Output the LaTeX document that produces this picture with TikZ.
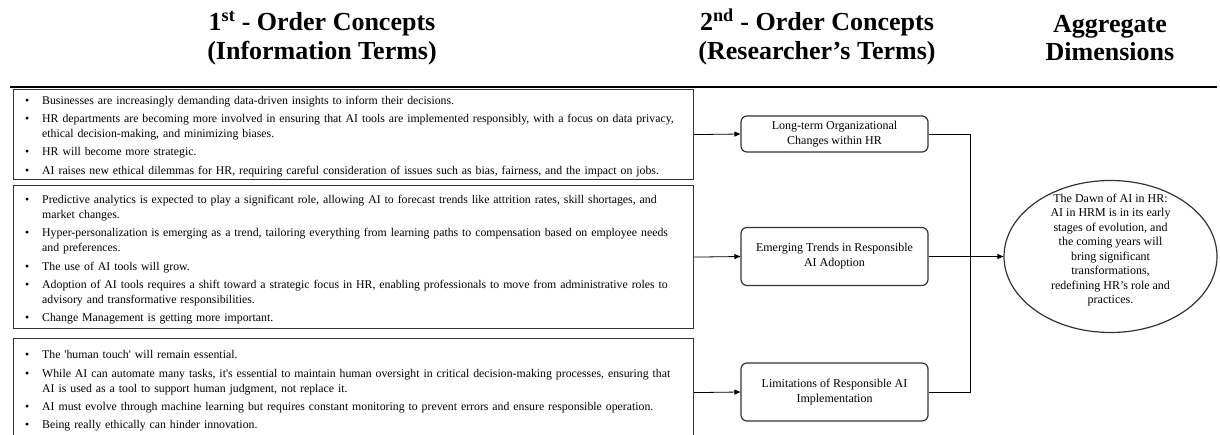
\documentclass[tikz,border=0pt]{standalone}
\usepackage{fontspec}
\setmainfont{Liberation Serif}
\usetikzlibrary{arrows.meta,shapes.geometric}
\newcommand{\bfirst}[1]{\hangindent=17pt\hangafter=1\noindent\makebox[17pt][l]{\strut\textbullet}#1}
\newcommand{\bitem}[1]{\par\vspace{3.3pt}\hangindent=17pt\hangafter=1\noindent\makebox[17pt][l]{\strut\textbullet}#1}
\begin{document}
\begin{tikzpicture}[x=1pt,y=-1pt,
  hdr/.style={font=\fontsize{26}{29}\selectfont\bfseries, inner sep=0pt, anchor=base},
  lbox/.style={draw=black!80, line width=1.2pt, rectangle, inner sep=0pt, anchor=north west, minimum width=680pt},
  ltext/.style={inner sep=0pt, anchor=north west, text width=668pt, align=left, font=\fontsize{11.8}{15}\selectfont},
  cbox/.style={draw=black!80, line width=1.2pt, rounded corners=6pt, minimum width=187pt, minimum height=36pt, align=center, inner sep=0pt, font=\fontsize{12}{15}\selectfont},
  conn/.style={line width=0.8pt, black},
  arr/.style={conn, -{Triangle[length=6pt,width=5pt]}}
]
\useasboundingbox (0,0) rectangle (1220,435);
\clip (0,0) rectangle (1220,435);
% headers
\node[hdr] (h1a) at (322,31) {1\textsuperscript{st} - Order Concepts};
\node[hdr] (h1b) at (322,60) {(Information Terms)};
\node[hdr] (h2a) at (817,31) {2\textsuperscript{nd} - Order Concepts};
\node[hdr] (h2b) at (817,60) {(Researcher’s Terms)};
\node[hdr] (h3a) at (1110,33) {Aggregate};
\node[hdr] (h3b) at (1110,61) {Dimensions};
\coordinate (rl) at (10,87);
\coordinate (rr) at (1217,87);
\draw[line width=1.4pt] (rl) -- (rr);
% first-order boxes
\node[lbox, minimum height=90pt] (b1) at (13,89) {};
\node[ltext] (t1) at (25,93.5) {%
\bfirst{Businesses are increasingly demanding data-driven insights to inform their decisions.}
\bitem{HR departments are becoming more involved in ensuring that AI tools are implemented responsibly, with a focus on data privacy,\newline ethical decision-making, and minimizing biases.}
\bitem{HR will become more strategic.}
\bitem{AI raises new ethical dilemmas for HR, requiring careful consideration of issues such as bias, fairness, and the impact on jobs.}};
\node[lbox, minimum height=143pt] (b2) at (13,185) {};
\node[ltext] (t2) at (25,193) {%
\bfirst{Predictive analytics is expected to play a significant role, allowing AI to forecast trends like attrition rates, skill shortages, and\newline market changes.}
\bitem{Hyper-personalization is emerging as a trend, tailoring everything from learning paths to compensation based on employee needs\newline and preferences.}
\bitem{The use of AI tools will grow.}
\bitem{Adoption of AI tools requires a shift toward a strategic focus in HR, enabling professionals to move from administrative roles to\newline advisory and transformative responsibilities.}
\bitem{Change Management is getting more important.}};
\node[lbox, minimum height=108pt] (b3) at (13,338) {};
\node[ltext] (t3) at (25,348) {%
\bfirst{The \textquotesingle human touch\textquotesingle{} will remain essential.}
\bitem{While AI can automate many tasks, it\textquotesingle s essential to maintain human oversight in critical decision-making processes, ensuring that\newline AI is used as a tool to support human judgment, not replace it.}
\bitem{AI must evolve through machine learning but requires constant monitoring to prevent errors and ensure responsible operation.}
\bitem{Being really ethically can hinder innovation.}};
% second-order boxes
\node[cbox] (c1) at (834.5,134) {Long-term Organizational\\Changes within HR};
\node[cbox, minimum height=58pt] (c2) at (834.5,256.5) {Emerging Trends in Responsible\\AI Adoption};
\node[cbox, minimum height=58pt] (c3) at (834.5,392) {Limitations of Responsible AI\\Implementation};
% aggregate
\node[draw=black!80, line width=1.2pt, ellipse, minimum width=213pt, minimum height=152pt, inner sep=0pt] (agg) at (1110.5,256.5) {};
\node[font=\fontsize{12}{14.5}\selectfont, align=center, inner sep=0pt] (aggt) at (1110.5,250) {The Dawn of AI in HR:\\AI in HRM is in its early\\stages of evolution, and\\the coming years will\\bring significant\\transformations,\\redefining HR’s role and\\practices.};
% connectors
\draw[arr] (b1.east) -- (c1.west);
\draw[arr] (b2.east) -- (c2.west);
\draw[arr] (b3.east) -- (c3.west);
\coordinate (j1) at (970,134);
\coordinate (j3) at (970,392);
\draw[conn] (c1.east) -- (j1) -- (j3) -- (c3.east);
\draw[arr] (c2.east) -- (agg.west);
\end{tikzpicture}
\end{document}
